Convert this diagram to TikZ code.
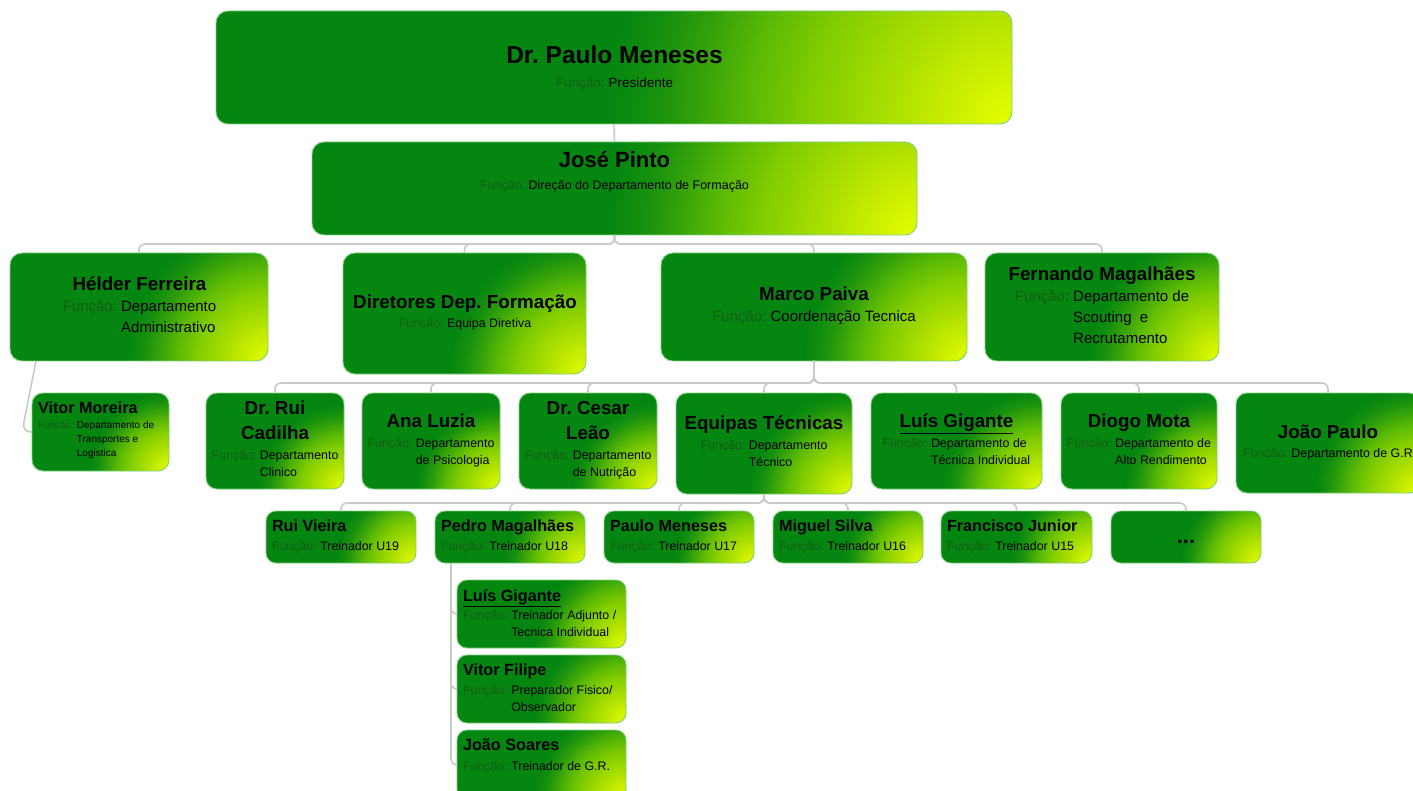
\documentclass[tikz,border=0pt]{standalone}
\usepackage{fontspec}
\setmainfont{Liberation Sans}
\usetikzlibrary{calc}
\frenchspacing
\definecolor{gdark}{RGB}{4,134,16}
\definecolor{gz}{RGB}{22,144,14}
\definecolor{ga}{RGB}{50,160,10}
\definecolor{gb}{RGB}{90,185,5}
\definecolor{gc}{RGB}{130,205,0}
\definecolor{gd}{RGB}{175,225,0}
\definecolor{ge}{RGB}{205,240,0}
\definecolor{yel}{RGB}{228,255,0}
\definecolor{bordercol}{RGB}{125,208,125}
\definecolor{conncol}{RGB}{202,202,202}
\definecolor{fncol}{RGB}{22,92,22}
\pgfdeclareradialshading{orgrad}{\pgfpointorigin}{color(0bp)=(yel); color(1.75bp)=(ge); color(3.6bp)=(gd); color(6.3bp)=(gc); color(8.2bp)=(gb); color(9.9bp)=(ga); color(11.2bp)=(gz); color(12.6bp)=(gdark); color(50bp)=(gdark)}
\newcommand\fs[2]{\fontsize{#1}{#2}\selectfont}
\newcommand\fn[1]{{\color{fncol}Função:} \begin{tabular}[t]{@{}l@{}}#1\end{tabular}}
\newcommand\nmtwo[2]{\begin{tabular}[t]{@{}c@{}}#1\\#2\end{tabular}}
\tikzset{
  boxline/.style={draw=bordercol, line width=0.9pt, inner sep=0pt, outer sep=0pt},
  conn/.style={draw=conncol, line width=1.6pt, rounded corners=6pt},
  txt/.style={anchor=base, inner sep=0pt, outer sep=0pt, text=black},
  txtl/.style={anchor=base west, inner sep=0pt, outer sep=0pt, text=black},
  nmbig/.style={font=\bfseries\fs{24.5}{28}},
  nmA/.style={font=\bfseries\fs{22}{26}},
  nmB/.style={font=\bfseries\fs{18.8}{25}},
  nmC/.style={font=\bfseries\fs{16.2}{20}},
  fnA/.style={font=\fs{13.5}{17}},
  fnB/.style={font=\fs{15}{20.8}},
  fnC/.style={font=\fs{12.4}{17}},
  fnD/.style={font=\fs{10}{14}},
}
% name, x1, y1, x2, y2, corner radius
\newcommand\obox[6]{%
  \pgfmathsetmacro\bw{#4-#2}%
  \pgfmathsetmacro\bh{#5-#3}%
  \pgfmathsetmacro\bcx{(#2+#4)/2}%
  \pgfmathsetmacro\bcy{(#3+#5)/2}%
  \pgfmathsetmacro\bL{veclen(\bw,\bh)}%
  \begin{scope}
    \clip[rounded corners=#6pt] (#2,#3) rectangle (#4,#5);
    \shade[shading=orgrad] (#4-\bL,#5-\bL) rectangle (#4+\bL,#5+\bL);
  \end{scope}
  \node[boxline, rounded corners=#6pt, minimum width=\bw pt, minimum height=\bh pt] (#1) at (\bcx,\bcy) {};
}
\begin{document}
\begin{tikzpicture}[x=1pt,y=-1pt]
\useasboundingbox (0,0) rectangle (1413,791);
\clip (0,0) rectangle (1413,791);
\fill[white] (0,0) rectangle (1413,791);

% boxes
\obox{pm}{216}{11}{1012}{124}{12}
\obox{jp}{312}{142}{917}{235}{12}
\obox{hf}{10}{253}{268}{361}{12}
\obox{dd}{343}{253}{586}{374}{12}
\obox{mp}{661}{253}{967}{361}{12}
\obox{fm}{985}{253}{1219}{361}{12}
\obox{vm}{32}{393}{169}{471}{11}
\obox{rc}{206}{393}{344}{489}{11}
\obox{al}{362}{393}{500}{489}{11}
\obox{cl}{519}{393}{657}{489}{11}
\obox{et}{676}{393}{852}{494}{11}
\obox{lg}{871}{393}{1042}{489}{11}
\obox{dm}{1061}{393}{1217}{489}{11}
\obox{jpa}{1236}{393}{1420}{493}{11}
\obox{rv}{266}{511}{416}{563}{10}
\obox{pmg}{435}{511}{585}{563}{10}
\obox{pme}{604}{511}{754}{563}{10}
\obox{ms}{773}{511}{923}{563}{10}
\obox{fj}{941}{511}{1092}{563}{10}
\obox{more}{1111}{511}{1261}{563}{10}
\obox{lgb}{457}{580}{626}{648}{10}
\obox{vf}{457}{655}{626}{723}{10}
\obox{js}{457}{730}{626}{800}{10}

% connectors
\draw[conn] (pm.south) -- (jp.north);
\foreach \c in {hf,dd,mp,fm} \draw[conn] (jp.south) -- ++(0,9) -| (\c.north);
\foreach \c in {rc,al,cl,et,lg,dm,jpa} \draw[conn] (mp.south) -- ++(0,22) -| (\c.north);
\foreach \c in {rv,pmg,pme,ms,fj,more} \draw[conn] (et.south) -- ++(0,9) -| (\c.north);
\foreach \c in {lgb,vf,js} \draw[conn] ([xshift=16pt]pmg.south west) |- (\c.west);
\draw[conn, rounded corners=9pt] ([xshift=26pt]hf.south west) -- ([xshift=-10pt]vm.west) -- (vm.west);

% texts
\node[txt,nmbig] (pmN) at (614.5,63.5) {Dr. Paulo Meneses};
\node[txt,fnA] (pmF) at (614.5,88) {\fn{Presidente}};
\node[txt,nmA] (jpN) at (614.5,168) {José Pinto};
\node[txt,font=\fs{12.5}{16}] (jpF) at (614.5,189.5) {\fn{Direção do Departamento de Formação}};

\node[txt,nmB] (hfN) at (139.5,291) {Hélder Ferreira};
\node[txt,fnB] (hfF) at (139.5,312) {\fn{Departamento\\Administrativo}};
\node[txt,nmB] (ddN) at (465,309) {Diretores Dep. Formação};
\node[txt,fnC] (ddF) at (465,328) {\fn{Equipa Diretiva}};
\node[txt,nmB] (mpN) at (814,301) {Marco Paiva};
\node[txt,fnB] (mpF) at (814,322) {\fn{Coordenação Tecnica}};
\node[txt,nmB] (fmN) at (1102,281) {Fernando Magalhães};
\node[txt,fnB] (fmF) at (1102,302) {\fn{Departamento de\\Scouting\ \ e\\Recrutamento}};

\node[txtl,nmC] (vmN) at (38,413) {Vitor Moreira};
\node[txtl,fnD] (vmF) at (38,428.5) {\fn{Departamento de\\Transportes e\\Logistica}};

\node[txt,nmB] (rcN) at (275,414.5) {\nmtwo{Dr. Rui}{Cadilha}};
\node[txt,fnC] (rcF) at (275,459.5) {\fn{Departamento\\Clinico}};
\node[txt,nmB] (alN) at (431,427.5) {Ana Luzia};
\node[txt,fnC] (alF) at (431,447.5) {\fn{Departamento\\de Psicologia}};
\node[txt,nmB] (clN) at (588,414.5) {\nmtwo{Dr. Cesar}{Leão}};
\node[txt,fnC] (clF) at (588,459.5) {\fn{Departamento\\de Nutrição}};
\node[txt,nmB] (etN) at (764,429.5) {Equipas Técnicas};
\node[txt,fnC] (etF) at (764,449.5) {\fn{Departamento\\Técnico}};
\node[txt,nmB] (lgN) at (956.5,427.5) {\underline{Luís Gigante}};
\node[txt,fnC] (lgF) at (956.5,447.5) {\fn{Departamento de\\Técnica Individual}};
\node[txt,nmB] (dmN) at (1139,427.5) {Diogo Mota};
\node[txt,fnC] (dmF) at (1139,447.5) {\fn{Departamento de\\Alto Rendimento}};
\node[txt,nmB] (jpaN) at (1328,438.5) {João Paulo};
\node[txt,fnC] (jpaF) at (1328,457.5) {\fn{Departamento de G.R}};

\node[txtl,nmC] (rvN) at (272,531.5) {Rui Vieira};
\node[txtl,fnC] (rvF) at (272,550.5) {\fn{Treinador U19}};
\node[txtl,nmC] (pmgN) at (441,531.5) {Pedro Magalhães};
\node[txtl,fnC] (pmgF) at (441,550.5) {\fn{Treinador U18}};
\node[txtl,nmC] (pmeN) at (610,531.5) {Paulo Meneses};
\node[txtl,fnC] (pmeF) at (610,550.5) {\fn{Treinador U17}};
\node[txtl,nmC] (msN) at (779,531.5) {Miguel Silva};
\node[txtl,fnC] (msF) at (779,550.5) {\fn{Treinador U16}};
\node[txtl,nmC] (fjN) at (947,531.5) {Francisco Junior};
\node[txtl,fnC] (fjF) at (947,550.5) {\fn{Treinador U15}};
\node[txt,font=\bfseries\fs{22}{26}] (moreN) at (1186,543) {...};

\node[txtl,nmC] (lgbN) at (463,601.5) {\underline{Luís Gigante}};
\node[txtl,fnC] (lgbF) at (463,619.5) {\fn{Treinador Adjunto /\\Tecnica Individual}};
\node[txtl,nmC] (vfN) at (463,675.5) {Vitor Filipe};
\node[txtl,fnC] (vfF) at (463,694.5) {\fn{Preparador Fisico/\\Observador}};
\node[txtl,nmC] (jsN) at (463,750.5) {João Soares};
\node[txtl,fnC] (jsF) at (463,770.5) {\fn{Treinador de G.R.}};
\end{tikzpicture}
\end{document}
